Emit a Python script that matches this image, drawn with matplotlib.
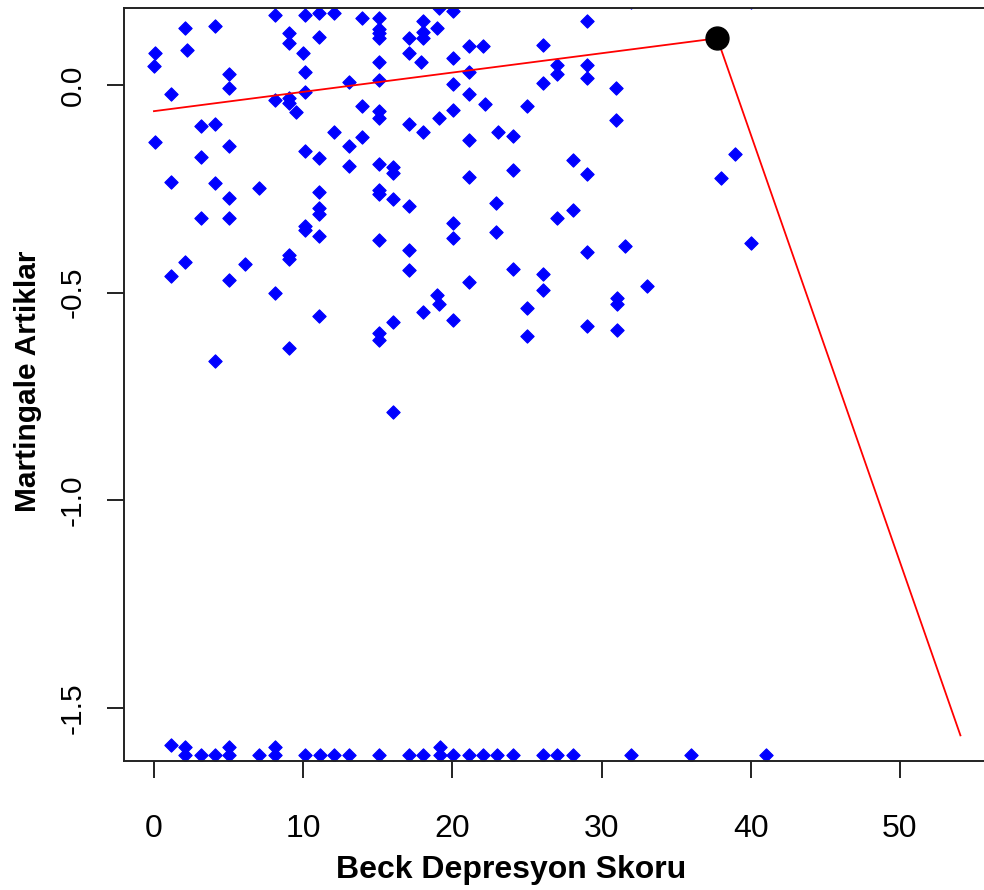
import matplotlib
matplotlib.use('Agg')
import matplotlib.pyplot as plt

plt.rcParams['font.family'] = ['Liberation Sans', 'DejaVu Sans']

# ---- data ----
beck_upper = [2.05, 4.09, 0.07, 0.0, 2.2, 5.0, 5.0, 1.14, 3.15, 4.09, 0.07, 5.0, 3.15, 1.14,
              4.09, 7.03, 5.0, 11.05, 8.1, 10.1, 11.05, 9.04, 9.04, 11.05, 9.98, 10.1, 10.1,
              8.1, 9.04, 9.04, 9.55, 10.1, 11.05, 3.15, 5.0, 11.05, 11.05, 10.1, 10.1, 11.05,
              2.05, 1.14, 6.1, 5.0, 9.04, 9.04, 8.1, 11.05, 9.04, 4.09,
              12.07, 13.97, 15.05, 15.05, 15.05, 15.05, 18.0, 18.0, 18.0, 18.95, 19.1, 20.05,
              17.1, 17.1, 15.05, 17.9, 20.05, 21.1, 22.05, 13.08, 15.05, 21.1, 20.05, 21.1,
              22.2, 13.97, 15.05, 15.05, 20.05, 19.1, 17.1, 18.04, 23.05, 12.07, 13.97, 13.08,
              21.1, 13.08, 15.05, 16.03, 16.03, 21.1, 15.05, 15.05, 16.03, 17.1, 15.05, 17.1,
              17.1, 20.05, 20.05, 22.94, 22.94, 21.1, 18.95, 19.1, 18.04, 20.05, 16.03, 15.05,
              15.05, 16.03,
              29.0, 31.95, 26.07, 27.03, 27.03, 29.0, 29.0, 26.07, 31.0, 25.03, 31.0, 24.07,
              28.1, 24.07, 29.0, 37.98, 38.93, 27.03, 28.08, 29.0, 31.55, 24.07, 26.07, 26.07,
              33.07, 31.05, 31.05, 25.03, 29.0, 31.05, 25.03, 40.0, 40.0]
resid_upper = [0.137, 0.143, 0.076, 0.046, 0.084, 0.027, -0.008, -0.022, -0.099, -0.094, -0.137,
               -0.146, -0.174, -0.233, -0.237, -0.247, -0.271, -0.257, 0.169, 0.169, 0.174,
               0.125, 0.102, 0.115, 0.076, 0.032, -0.016, -0.036, -0.032, -0.044, -0.064,
               -0.16, -0.175, -0.321, -0.321, -0.295, -0.311, -0.34, -0.349, -0.364, -0.426,
               -0.46, -0.431, -0.47, -0.41, -0.418, -0.5, -0.557, -0.634, -0.664,
               0.174, 0.161, 0.161, 0.134, 0.125, 0.113, 0.155, 0.128, 0.113, 0.137, 0.185,
               0.177, 0.114, 0.076, 0.056, 0.056, 0.064, 0.094, 0.094, 0.008, 0.012, 0.032,
               0.002, -0.022, -0.046, -0.05, -0.063, -0.08, -0.06, -0.079, -0.094, -0.114,
               -0.114, -0.114, -0.126, -0.146, -0.133, -0.194, -0.19, -0.197, -0.213, -0.222,
               -0.253, -0.262, -0.275, -0.292, -0.373, -0.398, -0.446, -0.333, -0.369, -0.283,
               -0.355, -0.474, -0.506, -0.528, -0.546, -0.566, -0.57, -0.598, -0.614, -0.787,
               0.153, 0.2, 0.096, 0.048, 0.027, 0.048, 0.016, 0.004, -0.008, -0.05, -0.084,
               -0.123, -0.181, -0.205, -0.214, -0.225, -0.166, -0.321, -0.301, -0.403, -0.388,
               -0.442, -0.455, -0.494, -0.484, -0.512, -0.528, -0.538, -0.581, -0.59, -0.605,
               -0.381, 0.2]

beck_lower = [2.08, 3.15, 4.09, 5.0, 7.03, 8.1, 10.1, 11.1, 12.1, 13.06, 15.07, 17.08, 18.0,
              19.15, 20.05, 21.1, 22.06, 23.0, 24.07, 26.07, 27.0, 28.08, 31.95, 35.99, 40.99,
              2.08, 5.0, 8.1, 19.15, 1.14, 0.07, 9.04, 16.03, 30.1]
resid_lower = [-1.614] * 25 + [-1.594] * 4 + [-1.588] + [-1.645] * 4

smooth_x = [0.0, 37.75, 54.05]
smooth_y = [-0.063, 0.1125, -1.566]
peak_x = [37.75]
peak_y = [0.1125]

xticks = [0, 10, 20, 30, 40, 50]
yticks = [0.0, -0.5, -1.0, -1.5]
ytick_labels = ['0.0', '-0.5', '-1.0', '-1.5']

# ---- figure ----
W, H = 984, 890
fig = plt.figure(figsize=(W / 100, H / 100), dpi=100)
L, R, T, B = 123.5, 984, 8.3, 760.7
ax = fig.add_axes([L / W, 1 - B / H, (R - L) / W, (B - T) / H])
ax.set_xlim(-2.04, 55.63)
ax.set_ylim(-1.627, 0.1847)

ax.scatter(beck_upper + beck_lower, resid_upper + resid_lower, marker='D', s=46,
           color='#0000ff', edgecolors='#0000ff', linewidths=0.8, zorder=2)
ax.plot(smooth_x, smooth_y, color='#ff0000', lw=1.3, zorder=3)
ax.plot(peak_x, peak_y, 'o', color='black', ms=16.5, zorder=4)

for s in ['left', 'top', 'bottom']:
    ax.spines[s].set_linewidth(1.4)
    ax.spines[s].set_color('#222222')
ax.spines['right'].set_visible(False)

ax.set_xticks(xticks)
ax.set_yticks(yticks)
ax.set_yticklabels(ytick_labels)
ax.tick_params(axis='both', length=12.5, width=1.4, color='#222222')
ax.tick_params(axis='x', pad=26, labelsize=23)
ax.tick_params(axis='y', pad=14, labelsize=21.5)
for lab in ax.get_yticklabels():
    lab.set_rotation(90)
    lab.set_va('center')

ax.set_xlabel('Beck Depresyon Skoru', fontsize=23, fontweight='bold')
ax.set_ylabel('Martingale Artiklar', fontsize=21.5, fontweight='bold')
ax.xaxis.set_label_coords((511 - L) / (R - L), (B - 870) / (B - T))
ax.yaxis.set_label_coords((28 - L) / (R - L), (B - 381) / (B - T))
ax.xaxis.label.set_va('center')
ax.yaxis.label.set_va('center')

fig.savefig('out.png', dpi=100)
